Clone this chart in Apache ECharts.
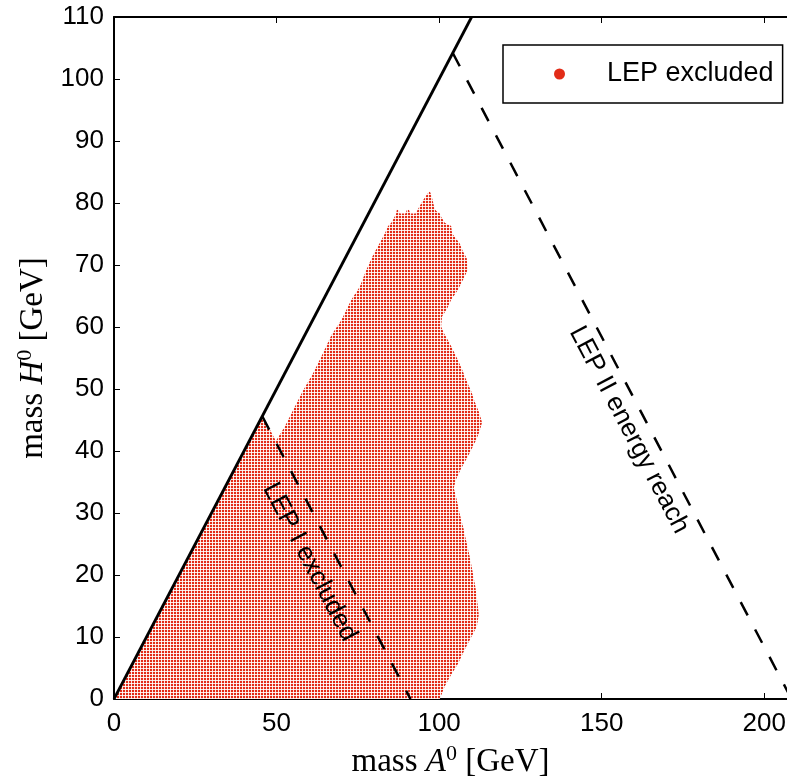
<!DOCTYPE html>
<html>
<head>
<meta charset="utf-8">
<script src="https://cdn.jsdelivr.net/npm/echarts@6/dist/echarts.min.js"></script>
<style>
  html, body { margin: 0; padding: 0; background: #fff; }
  #chart { width: 787px; height: 779px; }
</style>
</head>
<body>
<div id="chart"></div>
<script>
// Outline of the LEP-excluded scan region, (mA, mH) in GeV.
// Traced from the origin along the bottom, up the right edge, over the top and back down the left edge.
const regionMA = [
  0, 100.2, 101.7, 103.7, 105.8, 107.8, 109.9, 111.6, 112.2, 111.9, 111.2, 110.2, 109.4, 108.5,
  107.5, 106.3, 105.1, 104.5, 105.1, 106.8, 108.5, 109.9, 111.4, 112.4, 113.2, 112.4, 110.9,
  109.9, 108.3, 107.1, 105.3, 103.2, 101.5, 100.6, 100.9, 102.5, 103.7, 105.8, 107.5, 108.8,
  108.5, 107.3, 106.3, 104.0, 103.7, 101.7, 101.2, 100.6, 100.2, 99.1, 98.6, 98.1, 97.6, 97.1,
  96.1, 94.8, 93.6, 93.2, 92.8, 91.1, 90.7, 90.1, 89.7, 87.8, 87.6, 87.0, 86.8, 86.3, 85.8,
  85.3, 84.3, 83.3, 81.7, 79.7, 77.6, 75.6, 73.0, 69.9, 66.9, 64.3, 61.2, 58.2, 55.1, 52.5,
  49.8, 45.7
];
const regionMH = [
  0, 0, 2.0, 3.9, 5.7, 7.9, 10.0, 11.7, 13.6, 15.0, 17.9, 20.8, 23.0, 25.1,
  27.5, 29.9, 32.9, 34.0, 35.3, 37.2, 38.8, 40.2, 41.8, 43.1, 44.6, 46.1, 48.0,
  49.6, 51.5, 53.1, 55.2, 57.4, 59.0, 60.1, 61.7, 63.0, 64.4, 66.0, 67.8, 69.2,
  71.1, 72.2, 73.5, 75.1, 76.3, 76.8, 77.3, 77.8, 78.3, 78.7, 79.1, 80.2, 81.3, 81.9,
  81.3, 80.2, 79.1, 78.7, 78.3, 78.3, 78.9, 78.9, 78.3, 78.3, 78.9, 78.9, 78.3, 77.8, 77.3,
  76.8, 76.3, 75.1, 73.5, 71.6, 69.2, 66.5, 64.4, 61.1, 58.7, 55.8, 52.5, 49.8, 46.6, 43.9,
  41.6, 45.7
];

// Kinematic boundary mH = mA
const diagonalMA = [0, 110];
const diagonalMH = [0, 110];
// LEP I limit: mA + mH = mZ
const lep1MA = [45.6, 91.2];
const lep1MH = [45.6, 0];
// LEP II reach: mA + mH = 208.4 GeV
const lep2MA = [104.2, 208.4];
const lep2MH = [104.2, 0];

// Annotation texts and where they sit (GeV)
const noteText = ['LEP I excluded', 'LEP II energy reach'];
const noteMA = [60.2, 158.4];
const noteMH = [22.1, 43.4];

const xTicks = [0, 50, 100, 150, 200];
const yTicks = [0, 10, 20, 30, 40, 50, 60, 70, 80, 90, 100, 110];

const RED = 'rgb(226,44,24)';

// Dot-grid fill used for the scan points
function makeDots() {
  const c = document.createElement('canvas');
  c.width = 3; c.height = 3;
  const g = c.getContext('2d');
  g.fillStyle = 'rgb(253,228,222)';
  g.fillRect(0, 0, 3, 3);
  g.fillStyle = 'rgb(255,255,255)';
  g.fillRect(2, 2, 1, 1);
  g.fillStyle = RED;
  g.fillRect(0, 0, 2, 2);
  return c;
}
const dotPattern = { image: makeDots(), repeat: 'repeat' };

const pair = (xs, ys) => xs.map((x, i) => [x, ys[i]]);

const sans = 'Liberation Sans, Arial, sans-serif';
const tickFont = { fontFamily: sans, fontSize: 26, color: '#000' };
const serif = 'Liberation Serif, Times New Roman, serif';
const titleRich = {
  r: { fontFamily: serif, fontSize: 33, color: '#000', lineHeight: 38 },
  i: { fontFamily: serif, fontSize: 33, fontStyle: 'italic', color: '#000', lineHeight: 38 },
  s: { fontFamily: serif, fontSize: 22, color: '#000', lineHeight: 24, verticalAlign: 'top' }
};

const chart = echarts.init(document.getElementById('chart'), null, { renderer: 'canvas' });

chart.setOption({
  animation: false,
  backgroundColor: '#fff',
  grid: { left: 114, top: 17, right: 0, bottom: 80, containLabel: false, outerBoundsMode: 'none' },
  legend: {
    left: 503, top: 45,
    orient: 'vertical',
    backgroundColor: '#fff',
    borderColor: '#000',
    borderWidth: 1.5,
    borderRadius: 0,
    padding: [14, 9, 14, 51],
    itemWidth: 11, itemHeight: 11,
    selectedMode: false,
    textStyle: { fontFamily: sans, fontSize: 27, color: '#000', padding: [0, 0, 0, 37], lineHeight: 30 },
    data: [{ name: 'LEP excluded', icon: 'circle', itemStyle: { color: RED } }]
  },
  xAxis: [
    {
      type: 'value', position: 'bottom', min: 0, max: 207,
      name: '{r|mass }{i|A}{s|0}{r| [GeV]}',
      nameLocation: 'middle', nameGap: 44,
      nameTextStyle: { rich: titleRich },
      axisLine: { show: true, onZero: false, lineStyle: { color: '#000', width: 2 } },
      axisTick: { show: true, inside: true, length: 6, customValues: xTicks, lineStyle: { color: '#000', width: 1 } },
      axisLabel: Object.assign({ margin: 12, customValues: xTicks }, tickFont),
      splitLine: { show: false }
    },
    {
      type: 'value', position: 'top', min: 0, max: 207,
      axisLine: { show: true, onZero: false, lineStyle: { color: '#000', width: 2 } },
      axisTick: { show: true, inside: true, length: 6, customValues: xTicks, lineStyle: { color: '#000', width: 1 } },
      axisLabel: { show: false },
      splitLine: { show: false }
    }
  ],
  yAxis: {
    type: 'value', min: 0, max: 110, interval: 10,
    name: '{r|mass }{i|H}{s|0}{r| [GeV]}',
    nameLocation: 'middle', nameGap: 57,
    nameTextStyle: { rich: titleRich },
    axisLine: { show: true, onZero: false, lineStyle: { color: '#000', width: 2 } },
    axisTick: { show: true, inside: true, length: 6, lineStyle: { color: '#000', width: 1 } },
    axisLabel: Object.assign({ margin: 10 }, tickFont),
    splitLine: { show: false }
  },
  series: [
    {
      name: 'LEP excluded',
      type: 'custom',
      coordinateSystem: 'cartesian2d',
      xAxisIndex: 0, yAxisIndex: 0,
      clip: true,
      itemStyle: { color: RED },
      data: [[0, 0]],
      renderItem: function (params, api) {
        const pts = regionMA.map((x, i) => api.coord([x, regionMH[i]]));
        return { type: 'polygon', shape: { points: pts }, style: { fill: dotPattern, stroke: null } };
      },
      z: 1
    },
    {
      name: 'mH = mA',
      type: 'line',
      data: pair(diagonalMA, diagonalMH),
      symbol: 'none', clip: true,
      lineStyle: { color: '#000', width: 2.8 },
      z: 3
    },
    {
      name: 'LEP I',
      type: 'line',
      data: pair(lep1MA, lep1MH),
      symbol: 'none', clip: true,
      lineStyle: { color: '#000', width: 2.5, type: [15, 16] },
      z: 3
    },
    {
      name: 'LEP II',
      type: 'line',
      data: pair(lep2MA, lep2MH),
      symbol: 'none', clip: true,
      lineStyle: { color: '#000', width: 2.5, type: [15, 16] },
      z: 3
    },
    {
      name: 'notes',
      type: 'scatter',
      symbolSize: 0,
      silent: true,
      itemStyle: { opacity: 1 },
      data: noteText.map((t, i) => ({ value: [noteMA[i], noteMH[i]], name: t })),
      label: {
        show: true, position: 'inside', rotate: -62.3,
        formatter: p => p.name,
        fontFamily: sans, fontSize: 26, color: '#000', opacity: 1,
        textBorderWidth: 0, textShadowBlur: 0
      },
      z: 4
    }
  ]
});
</script>
</body>
</html>
